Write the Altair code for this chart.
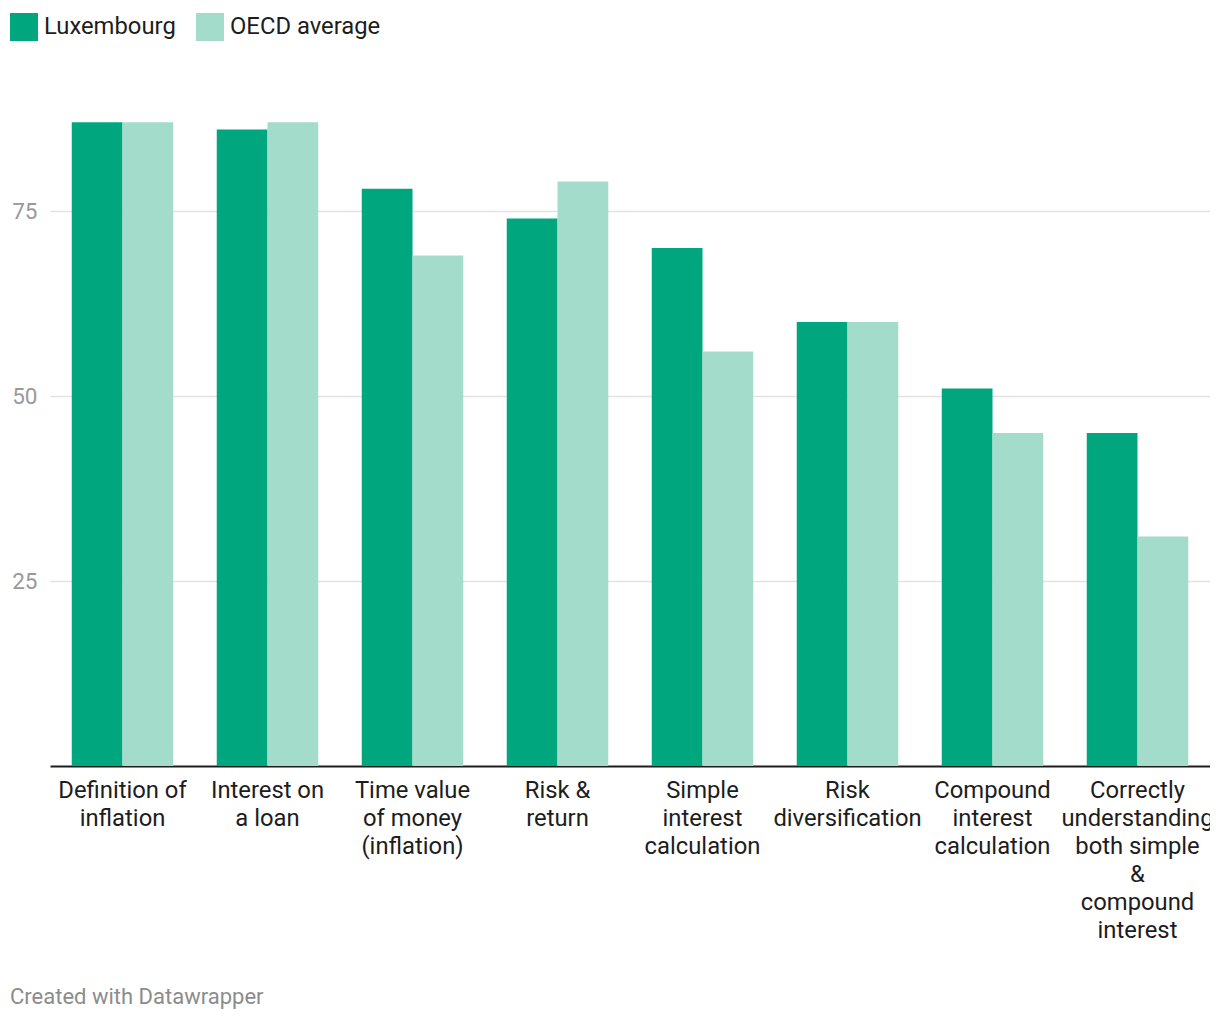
import altair as alt
import pandas as pd

categories = [
    "Definition of inflation",
    "Interest on a loan",
    "Time value of money (inflation)",
    "Risk & return",
    "Simple interest calculation",
    "Risk diversification",
    "Compound interest calculation",
    "Correctly understanding both simple & compound interest",
]
label_lines = [
    "Definition of|inflation",
    "Interest on|a loan",
    "Time value|of money|(inflation)",
    "Risk &|return",
    "Simple|interest|calculation",
    "Risk|diversification",
    "Compound|interest|calculation",
    "Correctly|understanding|both simple|&|compound|interest",
]
luxembourg = [87, 86, 78, 74, 70, 60, 51, 45]
oecd = [87, 87, 69, 79, 56, 60, 45, 31]
series = ["Luxembourg", "OECD average"]
colors = ["#00a67e", "#a3dccb"]

rows = []
for i, c in enumerate(categories):
    rows.append({"cat": c, "series": series[0], "value": luxembourg[i]})
    rows.append({"cat": c, "series": series[1], "value": oecd[i]})
df = pd.DataFrame(rows)

label_map = "{" + ",".join('"%s":"%s"' % (c, l) for c, l in zip(categories, label_lines)) + "}"

bars = alt.Chart(df).mark_bar().encode(
    x=alt.X("cat:N", sort=categories, title=None,
            scale=alt.Scale(paddingInner=0.3, paddingOuter=0.15),
            axis=alt.Axis(labelAngle=0, labelFontSize=23.8, labelColor="#1d1d1d",
                          labelFont="Roboto", labelPadding=12, labelLineHeight=28,
                          ticks=False, domainColor="#1d1d1d", domainWidth=2,
                          labelBaseline="top", labelLimit=400,
                          labelExpr="split(" + label_map + "[datum.label], '|')")),
    xOffset=alt.XOffset("series:N", sort=series),
    y=alt.Y("value:Q", title=None,
            scale=alt.Scale(domain=[0, 90], nice=False),
            axis=alt.Axis(values=[25, 50, 75], labelFontSize=22.5, labelColor="#999999",
                          labelFont="Roboto", labelPadding=13, ticks=False, domain=False,
                          gridColor="#e3e3e3", gridWidth=1.5)),
    color=alt.Color("series:N", sort=series,
                    scale=alt.Scale(domain=series, range=colors),
                    legend=alt.Legend(title=None, orient="none", direction="horizontal",
                                      legendX=-40, legendY=-87, symbolType="square",
                                      symbolSize=784, symbolStrokeWidth=0,
                                      symbolOpacity=1, labelFontSize=23.8,
                                      labelFont="Roboto", labelColor="#1d1d1d",
                                      labelOffset=6, columnPadding=20, labelLimit=400)),
)

footer_df = pd.DataFrame({"t": ["Created with Datawrapper"]})
footer = alt.Chart(footer_df).mark_text(
    align="left", baseline="middle", fontSize=22, font="Roboto", color="#8c8c8c"
).encode(text="t:N", x=alt.value(-40), y=alt.value(897))

chart = alt.layer(bars, footer).properties(
    width=1160, height=666,
    padding={"left": 42, "top": 92, "right": 0, "bottom": 250},
    autosize=alt.AutoSizeParams(type="none"),
).configure(font="Roboto").configure_view(stroke=None, strokeWidth=0)

chart.save("out.html", embed_options={"renderer": "svg", "actions": False})
